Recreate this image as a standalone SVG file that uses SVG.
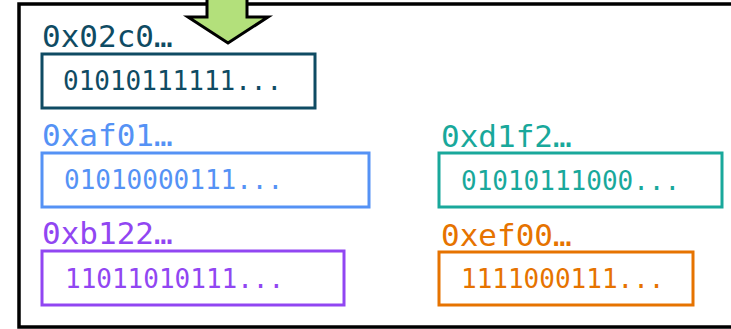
<svg xmlns="http://www.w3.org/2000/svg" width="731" height="329" viewBox="0 0 731 329">
<style>
.lbl{font-family:"DejaVu Sans Mono","Liberation Mono",monospace;font-size:31px}
.bin{font-family:"DejaVu Sans Mono","Liberation Mono",monospace;font-size:26px}
.box{fill:#fff;stroke-width:3}
</style>
<rect x="0" y="0" width="731" height="329" fill="#fff"/>
<g id="frame"><rect x="19" y="4" width="740" height="323" fill="#fff" stroke="#000" stroke-width="3.5"/></g>
<g id="arrow"><path d="M207,-5 L247,-5 L247,17 L268,17 L228,43 L188,17 L207,17 Z" fill="#b3e07b" stroke="#000" stroke-width="3" stroke-linejoin="miter"/></g>
<g id="n1">
<text class="lbl" x="42" y="47" fill="#0f4b63">0x02c0…</text>
<rect class="box" x="42" y="54" width="273" height="54" stroke="#0f4b63"/>
<text class="bin" x="63" y="90" fill="#0f4b63">01010111111...</text>
</g>
<g id="n2">
<text class="lbl" x="42" y="146" fill="#5592f5">0xaf01…</text>
<rect class="box" x="42" y="153" width="327" height="54" stroke="#5592f5"/>
<text class="bin" x="64" y="189" fill="#5592f5">01010000111...</text>
</g>
<g id="n3">
<text class="lbl" x="42" y="244" fill="#9146f2">0xb122…</text>
<rect class="box" x="42" y="251" width="302" height="54" stroke="#9146f2"/>
<text class="bin" x="65" y="288" fill="#9146f2">11011010111...</text>
</g>
<g id="n4">
<text class="lbl" x="441" y="147" fill="#19a89b">0xd1f2…</text>
<rect class="box" x="439" y="153" width="283" height="54" stroke="#19a89b"/>
<text class="bin" x="461" y="190" fill="#19a89b">01010111000...</text>
</g>
<g id="n5">
<text class="lbl" x="441" y="246" fill="#e67300">0xef00…</text>
<rect class="box" x="439" y="252" width="254" height="53" stroke="#e67300"/>
<text class="bin" x="461" y="288" fill="#e67300">1111000111...</text>
</g>
<g id="connectors"></g>
</svg>
